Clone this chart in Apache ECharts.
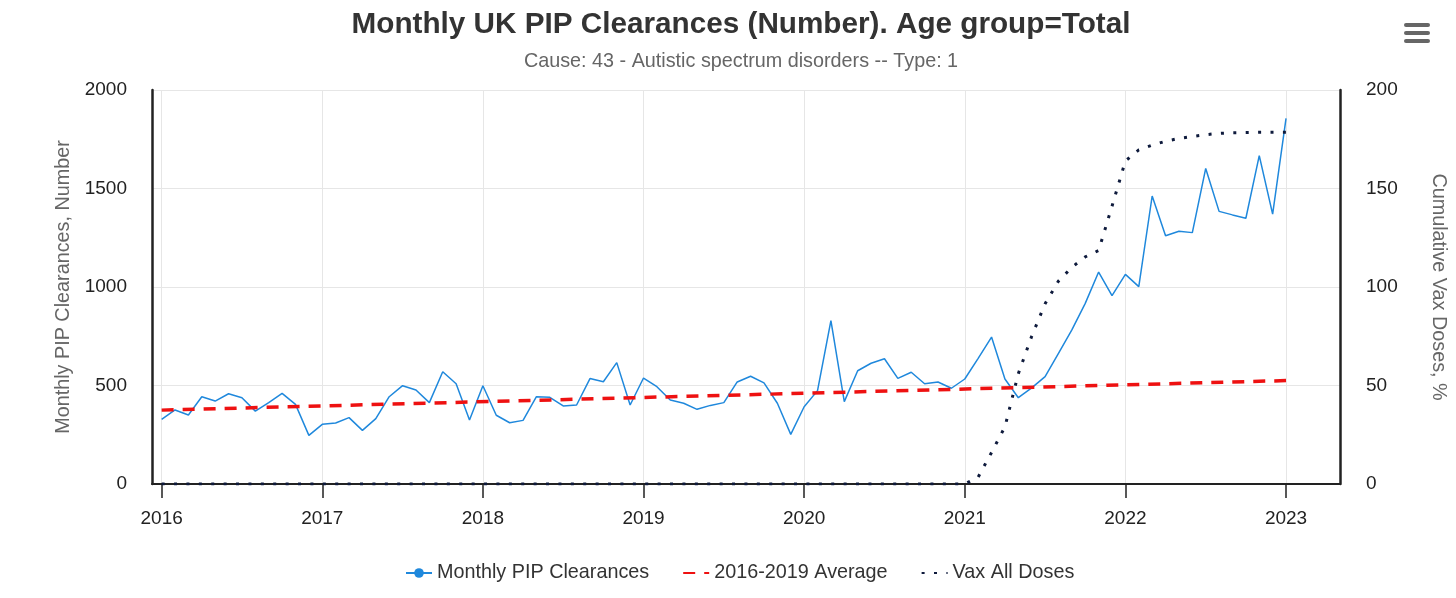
<!DOCTYPE html>
<html>
<head>
<meta charset="utf-8">
<script src="https://cdn.jsdelivr.net/npm/echarts@6/dist/echarts.min.js"></script>
<style>
html,body{margin:0;padding:0;background:#fff;}
#chart{width:1456px;height:598px;}
</style>
</head>
<body>
<div id="chart"></div>
<script>
// monthly points, Jan 2016 .. Jan 2023
var startYear = 2016;
var yearTicks = [2016, 2017, 2018, 2019, 2020, 2021, 2022, 2023];

var pipClearances = [
  328, 376, 350, 443, 421, 458, 438, 370, 413, 460, 404, 247,
  303, 310, 337, 272, 332, 443, 499, 477, 413, 570, 509, 325,
  499, 349, 311, 323, 443, 440, 396, 401, 535, 519, 616, 401,
  538, 494, 426, 410, 379, 399, 413, 518, 547, 513, 410, 252,
  392, 474, 829, 418, 575, 613, 636, 536, 567, 509, 518, 486,
  533, 638, 746, 533, 438, 488, 545, 663, 782, 917, 1076, 956,
  1064, 1002, 1462, 1260, 1283, 1276, 1602, 1384, 1366, 1349, 1667, 1370,
  1856
];

// straight trend line, start and end
var avgMonths = [0, 84];
var avgValues = [375, 525];

// zero until Dec 2020, then from Jan 2021
var vaxZeroMonths = 60;
var vaxValues = [
  0, 3.5, 16, 29, 56, 75, 91.5, 103, 110, 115.3, 118.5, 141,
  164, 169.6, 172, 174, 175.4, 176.4, 177.3, 178, 178.3, 178.4, 178.5, 178.5,
  178.5
];

function monthX(i) { return startYear + i / 12; }

var pipData = pipClearances.map(function (v, i) { return [monthX(i), v]; });
var avgData = avgMonths.map(function (m, i) { return [monthX(m), avgValues[i]]; });
var vaxData = [];
for (var i = 0; i < vaxZeroMonths; i++) vaxData.push([monthX(i), 0]);
vaxValues.forEach(function (v, j) { vaxData.push([monthX(vaxZeroMonths + j), v]); });

var font = 'Liberation Sans, Arial, Helvetica, sans-serif';
var noMark = { color: 'rgba(0,0,0,0)', borderWidth: 0 };
var chart = echarts.init(document.getElementById('chart'));
chart.setOption({
  animation: false,
  textStyle: { fontFamily: font },
  title: [{
    text: 'Monthly UK PIP Clearances (Number). Age group=Total',
    left: 736, textAlign: 'center', top: 5,
    textStyle: { fontSize: 29.7, fontWeight: 'bold', color: '#333', fontFamily: font }
  }, {
    text: 'Cause: 43 - Autistic spectrum disorders -- Type: 1',
    left: 736, textAlign: 'center', top: 47,
    textStyle: { fontSize: 19.8, fontWeight: 'normal', color: '#666', fontFamily: font }
  }],
  graphic: [
    { type: 'rect', shape: { x: 1404, y: 23, width: 26, height: 4, r: 2 }, style: { fill: '#666' } },
    { type: 'rect', shape: { x: 1404, y: 31, width: 26, height: 4, r: 2 }, style: { fill: '#666' } },
    { type: 'rect', shape: { x: 1404, y: 39, width: 26, height: 4, r: 2 }, style: { fill: '#666' } }
  ],
  legend: {
    left: 400, top: 558,
    itemWidth: 26, itemHeight: 12, itemGap: 33,
    textStyle: { fontSize: 19.8, color: '#333', fontFamily: font },
    data: [
      { name: 'Monthly PIP Clearances' },
      { name: '2016-2019 Average', itemStyle: noMark },
      { name: 'Vax All Doses', itemStyle: noMark }
    ]
  },
  grid: { left: 152, right: 114, top: 90, bottom: 114 },
  xAxis: {
    type: 'value', min: 2015.94, max: 2023.336,
    axisLine: { show: true, lineStyle: { color: '#222', width: 2 } },
    axisTick: { show: true, length: 14, customValues: yearTicks, lineStyle: { color: '#222', width: 1.5 } },
    axisLabel: { customValues: yearTicks, margin: 25, fontSize: 19, color: '#222', fontFamily: font,
      formatter: function (v) { return String(Math.round(v)); } },
    splitLine: { show: true, lineStyle: { color: '#e6e6e6', width: 1 } }
  },
  yAxis: [{
    type: 'value', min: 0, max: 2000, interval: 500, position: 'left',
    name: 'Monthly PIP Clearances, Number', nameLocation: 'middle', nameGap: 77,
    nameTextStyle: { fontSize: 19.8, color: '#666', fontFamily: font },
    axisLine: { show: true, lineStyle: { color: '#222', width: 2.5 } },
    axisTick: { show: false },
    axisLabel: { margin: 25, fontSize: 19, color: '#222', fontFamily: font,
      formatter: function (v) { return String(v); } },
    splitLine: { show: true, lineStyle: { color: '#e6e6e6', width: 1 } }
  }, {
    type: 'value', min: 0, max: 200, interval: 50, position: 'right',
    name: 'Cumulative Vax Doses, %', nameLocation: 'middle', nameGap: 88, nameRotate: -90,
    nameTextStyle: { fontSize: 19.8, color: '#666', fontFamily: font },
    axisLine: { show: true, lineStyle: { color: '#222', width: 2.5 } },
    axisTick: { show: false },
    axisLabel: { margin: 26, fontSize: 19, color: '#222', fontFamily: font,
      formatter: function (v) { return String(v); } },
    splitLine: { show: false }
  }],
  series: [{
    name: 'Monthly PIP Clearances', type: 'line', yAxisIndex: 0,
    data: pipData, symbol: 'circle', symbolSize: 9, showSymbol: false,
    itemStyle: { color: '#1f88dc' },
    lineStyle: { color: '#1f88dc', width: 1.5 }
  }, {
    name: '2016-2019 Average', type: 'line', yAxisIndex: 0,
    data: avgData, symbol: 'none',
    itemStyle: { color: '#ee1111' },
    lineStyle: { color: '#ee1111', width: 3.5, type: [12, 9] }
  }, {
    name: 'Vax All Doses', type: 'line', yAxisIndex: 1,
    data: vaxData, symbol: 'none',
    itemStyle: { color: '#0e1a3c' },
    lineStyle: { color: '#0e1a3c', width: 3, type: [3, 9.4] }
  }]
});
</script>
</body>
</html>
